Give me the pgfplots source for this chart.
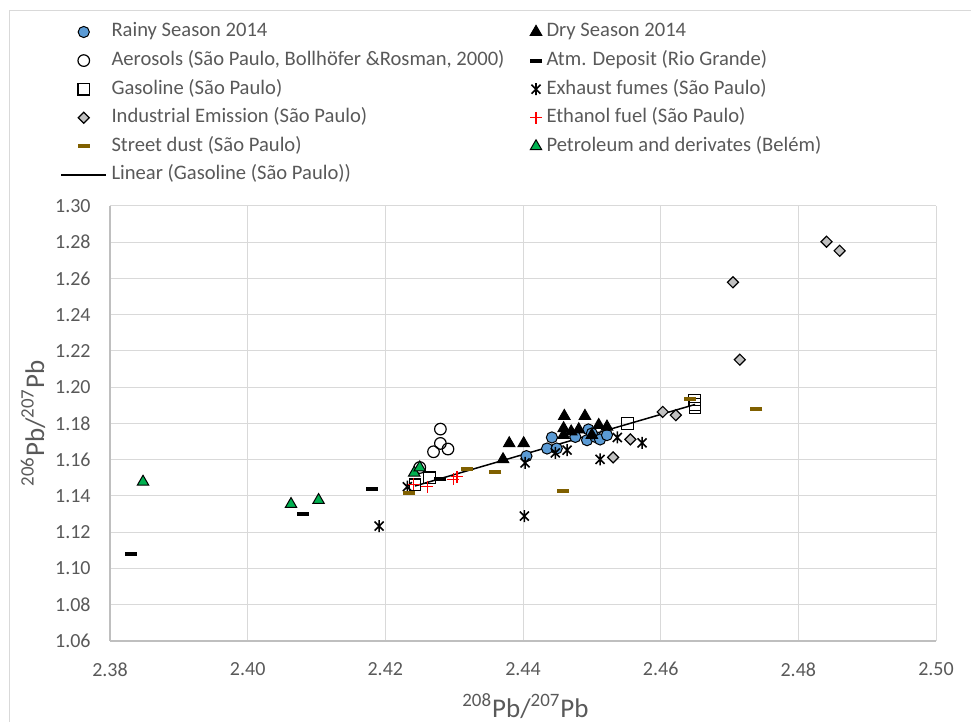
\documentclass[border=0pt]{standalone}
\usepackage{fontspec}
\setmainfont{Carlito}
\usepackage{pgfplots}
\pgfplotsset{compat=1.18}
\definecolor{txt}{HTML}{595959}
\definecolor{gridc}{HTML}{D9D9D9}
\definecolor{axc}{HTML}{BFBFBF}
\definecolor{rainy}{HTML}{5B9BD5}
\definecolor{dust}{HTML}{806000}
\definecolor{petro}{HTML}{00B050}
\definecolor{indus}{HTML}{C0C0C0}
\pgfdeclareplotmark{xbar}{%
 \pgfpathmoveto{\pgfqpoint{0pt}{\pgfplotmarksize}}\pgfpathlineto{\pgfqpoint{0pt}{-\pgfplotmarksize}}%
 \pgfpathmoveto{\pgfqpoint{-.75\pgfplotmarksize}{.75\pgfplotmarksize}}\pgfpathlineto{\pgfqpoint{.75\pgfplotmarksize}{-.75\pgfplotmarksize}}%
 \pgfpathmoveto{\pgfqpoint{-.75\pgfplotmarksize}{-.75\pgfplotmarksize}}\pgfpathlineto{\pgfqpoint{.75\pgfplotmarksize}{.75\pgfplotmarksize}}%
 \pgfusepathqstroke}
\begin{document}
\begin{tikzpicture}
\path[use as bounding box] (-55pt,-40.5pt) rectangle (430.5pt,320.5pt);
\draw[gridc, line width=0.5pt] (-50pt,-41pt) -- (-50pt,315pt) -- (431pt,315pt);
\begin{axis}[
  scale only axis, width=413pt, height=217.5pt,
  xmin=2.38, xmax=2.50, ymin=1.06, ymax=1.30,
  xtick={2.38,2.40,2.42,2.44,2.46,2.48,2.50},
  ytick={1.06,1.08,1.10,1.12,1.14,1.16,1.18,1.20,1.22,1.24,1.26,1.28,1.30},
  /pgf/number format/assume math mode=true,
  /pgf/number format/fixed,
  /pgf/number format/fixed zerofill,
  /pgf/number format/precision=2,
  tick label style={font=\fontsize{10}{12}\selectfont, text=txt},
  xticklabel style={inner sep=0pt, yshift=-10.5pt},
  yticklabel style={inner sep=0pt, xshift=-9.5pt},
  major tick length=0pt,
  grid=major, grid style={gridc, line width=0.5pt},
  axis lines=left, axis line style={axc, line width=0.6pt, -},
  xlabel={\textsuperscript{208}Pb/\textsuperscript{207}Pb},
  ylabel={\textsuperscript{206}Pb/\textsuperscript{207}Pb},
  label style={font=\fontsize{13.5}{16}\selectfont, text=txt},
  xlabel style={at={(axis description cs:0.503,-0.1494)}, anchor=center},
  ylabel style={at={(axis description cs:-0.0932,0.5)}, anchor=center},
  legend columns=2,
  legend cell align=left,
  legend image code/.code={\draw[mark repeat=2,mark phase=2,#1] plot coordinates {(0pt,0pt)(11.25pt,0pt)(22.5pt,0pt)};},
  legend style={at={(axis description cs:-0.0599,1.4207)}, anchor=north west, draw=none, fill=none,
    inner sep=0pt, outer sep=0pt, row sep=5.3pt,
    font=\fontsize{10.3}{12}\selectfont, text=txt,
    nodes={inner sep=0pt, text height=7pt, text depth=2pt},
    /tikz/every odd column/.append style={column sep=2.25pt},
    /tikz/every even column/.append style={column sep=12.75pt}},
]
% Rainy Season 2014
\addplot[only marks, mark=*, mark size=2.8pt, mark options={fill=rainy, draw=black, line width=0.5pt}] table {
x y
2.4405 1.1620
2.4435 1.1662
2.4449 1.1662
2.4442 1.1723
2.4476 1.1726
2.4495 1.1767
2.4493 1.1708
2.4505 1.1726
2.4512 1.1712
2.4522 1.1736
2.4500 1.1745
};
\addlegendentry{Rainy Season 2014}
% Dry Season 2014
\addplot[only marks, mark=triangle*, mark size=3.3pt, mark options={fill=black, draw=black, line width=0.5pt}] table {
x y
2.4371 1.1602
2.4380 1.1690
2.4401 1.1690
2.4460 1.1841
2.4490 1.1841
2.4459 1.1773
2.4459 1.1736
2.4481 1.1767
2.4510 1.1791
2.4522 1.1782
2.4500 1.1736
2.4470 1.1755
};
\addlegendentry{Dry Season 2014}
% Aerosols
\addplot[only marks, mark=o, mark size=2.9pt, mark options={draw=black, line width=0.6pt}] table {
x y
2.4280 1.1769
2.4280 1.1690
2.4270 1.1644
2.4291 1.1659
2.4250 1.1557
};
\addlegendentry{Aerosols (São Paulo, Bollhöfer \&Rosman, 2000)}
% Atm. Deposit
\addplot[only marks, mark=-, mark size=3pt, mark options={draw=black, line width=2pt}] table {
x y
2.3830 1.1079
2.4080 1.1300
2.4180 1.1438
2.4280 1.1491
};
\addlegendentry{Atm. Deposit (Rio Grande)}
% Gasoline
\addplot[only marks, mark=square, mark size=2.9pt, mark options={draw=black, line width=0.6pt}] table {
x y
2.4243 1.1462
2.4264 1.1500
2.4552 1.1800
2.4649 1.1930
2.4650 1.1905
2.4650 1.1885
};
\addlegendentry{Gasoline (São Paulo)}
% Exhaust fumes
\addplot[only marks, mark=xbar, mark size=3pt, mark options={draw=black, line width=0.8pt}] table {
x y
2.4191 1.1234
2.4402 1.1289
2.4232 1.1451
2.4403 1.1583
2.4447 1.1638
2.4464 1.1653
2.4512 1.1602
2.4537 1.1723
2.4573 1.1693
};
\addlegendentry{Exhaust fumes (São Paulo)}
% Industrial Emission
\addplot[only marks, mark=square*, mark size=1.95pt, mark options={rotate=45, fill=indus, draw=black, line width=0.6pt}] table {
x y
2.4531 1.1613
2.4556 1.1712
2.4603 1.1864
2.4622 1.1846
2.4715 1.2152
2.4705 1.2579
2.4841 1.2803
2.4860 1.2753
};
\addlegendentry{Industrial Emission (São Paulo)}
% Ethanol fuel
\addplot[only marks, mark=+, mark size=3pt, mark options={draw=red, line width=0.6pt}] table {
x y
2.4241 1.1465
2.4261 1.1451
2.4299 1.1491
2.4304 1.1506
};
\addlegendentry{Ethanol fuel (São Paulo)}
% Street dust
\addplot[only marks, mark=-, mark size=3pt, mark options={draw=dust, line width=2pt}] table {
x y
2.4235 1.1414
2.4318 1.1547
2.4360 1.1534
2.4458 1.1428
2.4642 1.1933
2.4739 1.1878
};
\addlegendentry{Street dust (São Paulo)}
% Petroleum and derivates
\addplot[only marks, mark=triangle*, mark size=3.3pt, mark options={fill=petro, draw=black, line width=0.5pt}] table {
x y
2.3848 1.1478
2.4063 1.1355
2.4103 1.1377
2.4242 1.1528
2.4250 1.1557
};
\addlegendentry{Petroleum and derivates (Belém)}
% Linear trend (Gasoline)
\addplot[black, line width=0.75pt, no marks] table {
x y
2.4243 1.1455
2.4650 1.1905
};
\addlegendentry{Linear (Gasoline (São Paulo))}
\end{axis}
\end{tikzpicture}
\end{document}
